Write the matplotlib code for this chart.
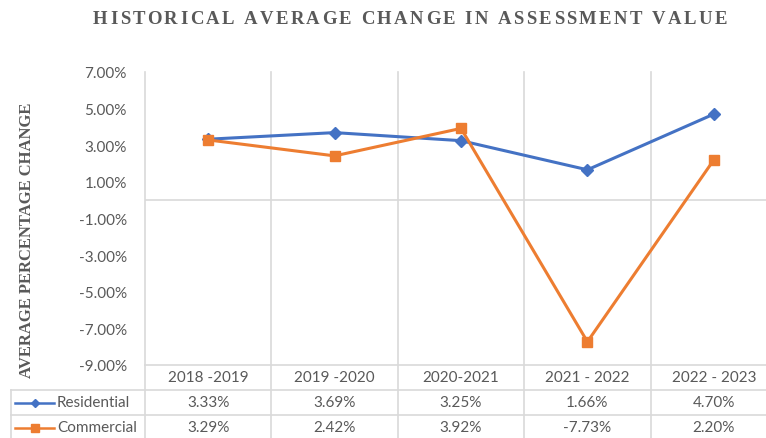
import matplotlib.pyplot as plt
from matplotlib.lines import Line2D
from matplotlib.transforms import blended_transform_factory
from matplotlib.font_manager import FontProperties

periods = ["2018 -2019", "2019 -2020", "2020-2021", "2021 - 2022", "2022 - 2023"]
residential = [3.33, 3.69, 3.25, 1.66, 4.70]
commercial = [3.29, 2.42, 3.92, -7.73, 2.20]
yticks = [7, 5, 3, 1, -1, -3, -5, -7, -9]

blue = "#4472C4"
orange = "#ED7D31"
grid = "#D9D9D9"
txt = "#595959"

W, H = 766, 439
fig = plt.figure(figsize=(W / 100, H / 100), dpi=100)
# plot area in pixels: x 145..777 (right edge cut off), y 73..366
ax = fig.add_axes([145 / W, (H - 366) / H, 632 / W, 293 / H])
ax.set_xlim(-0.5, 4.5)
ax.set_ylim(-9, 7)
for s in ax.spines.values():
    s.set_visible(False)
ax.set_xticks([])
ax.set_yticks(yticks)
ax.set_yticklabels(["%.2f%%" % v for v in yticks], fontsize=11, color=txt, family="Lato")
ax.tick_params(axis="y", length=0, pad=13)
ax.axhline(0, color=grid, lw=1.2, zorder=1)

x = range(len(periods))
ax.plot(x, residential, color=blue, lw=2.2, marker="D", ms=6, zorder=3, clip_on=False)
ax.plot(x, commercial, color=orange, lw=2.2, marker="s", ms=7, zorder=3, clip_on=False)

# data table under the plot
bt = blended_transform_factory(ax.transData, ax.transAxes)
h = 25 / 293
left = (11 - 145) / 632
for b in [i - 0.5 for i in range(len(periods) + 1)]:
    ax.add_line(Line2D([b, b], [1, -3 * h - 0.1], transform=bt, color=grid, lw=1.2, clip_on=False))
ax.add_line(Line2D([0, 1.1], [0, 0], transform=ax.transAxes, color=grid, lw=1.2, clip_on=False))
for k in (1, 2):
    ax.add_line(Line2D([left, 1.1], [-k * h, -k * h], transform=ax.transAxes, color=grid, lw=1.2, clip_on=False))
ax.add_line(Line2D([left, left], [-h, -3 * h - 0.1], transform=ax.transAxes, color=grid, lw=1.2, clip_on=False))

for i, p in enumerate(periods):
    ax.text(i, -0.5 * h, p, transform=bt, ha="center", va="center", fontsize=11, color=txt, family="Lato")
    ax.text(i, -1.5 * h, "%.2f%%" % residential[i], transform=bt, ha="center", va="center",
            fontsize=11, color=txt, family="Lato")
    ax.text(i, -2.5 * h, "%.2f%%" % commercial[i], transform=bt, ha="center", va="center",
            fontsize=11, color=txt, family="Lato")

rows = [("Residential", blue, "D", 4.5), ("Commercial", orange, "s", 5.5)]
for k, (name, c, m, ms) in enumerate(rows):
    yc = -(1.5 + k) * h
    x0, x1 = (15 - 145) / 632, (54 - 145) / 632
    ax.add_line(Line2D([x0, x1], [yc, yc], transform=ax.transAxes, color=c, lw=1.8, clip_on=False))
    ax.add_line(Line2D([(x0 + x1) / 2], [yc], transform=ax.transAxes, color=c, marker=m, ms=ms,
                       clip_on=False))
    ax.text((57 - 145) / 632, yc, name, transform=ax.transAxes, ha="left", va="center",
            fontsize=11, color=txt, family="Lato")

# letter-spaced serif title, one character at a time
title = "HISTORICAL AVERAGE CHANGE IN ASSESSMENT VALUE"
fp = FontProperties(family="Liberation Serif", weight="bold", size=13.5)
r = fig.canvas.get_renderer()
widths = [r.get_text_width_height_descent(ch, fp, ismath=False)[0] for ch in title]
x_left, x_right = 93, 727
spacing = (x_right - x_left - sum(widths)) / (len(title) - 1)
xp = x_left
for ch, w in zip(title, widths):
    fig.text(xp / W, 1 - 19 / H, ch, ha="left", va="center", fontproperties=fp, color=txt)
    xp += w + spacing

fig.text(27 / W, 1 - 240 / H, "AVERAGE PERCENTAGE CHANGE", rotation=90, ha="center", va="center",
         fontsize=12, fontweight="bold", color=txt, family="Liberation Serif")

fig.savefig("out.png", dpi=100)
